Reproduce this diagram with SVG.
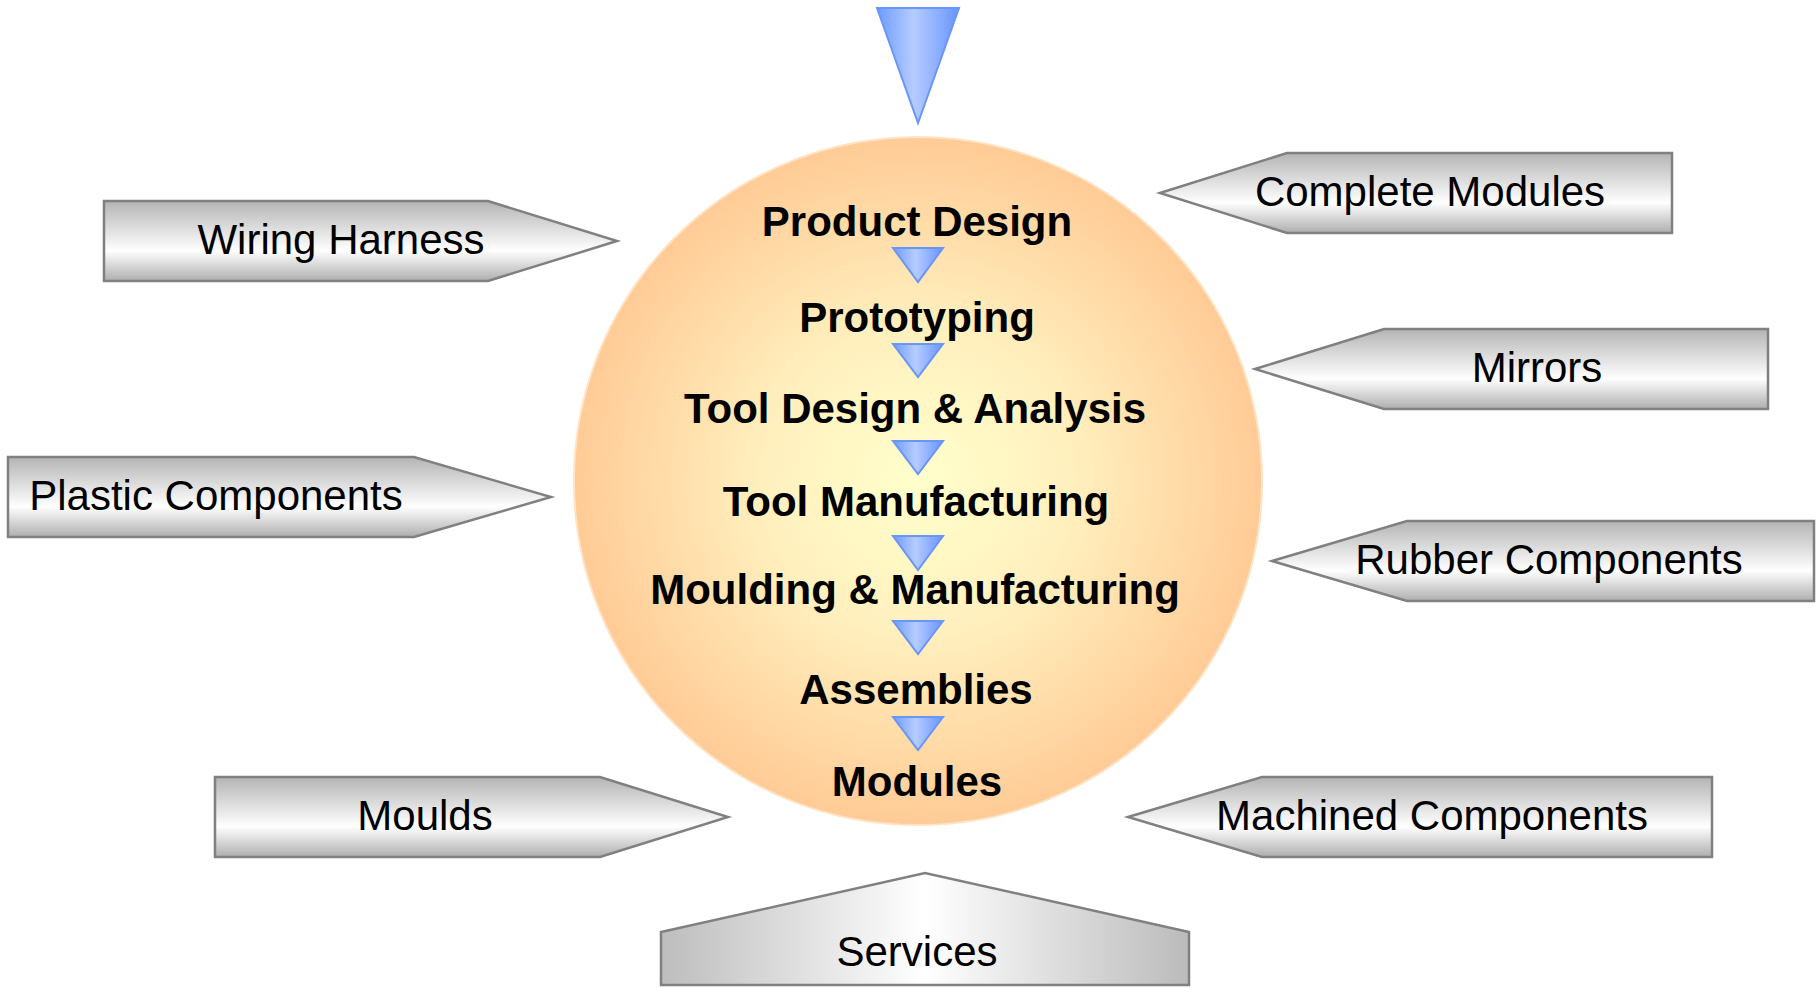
<svg xmlns="http://www.w3.org/2000/svg" width="1816" height="988" viewBox="0 0 1816 988">
<style>
.box{stroke:#808080;stroke-width:2.5;fill:url(#gv)}
.lbl{font-family:"Liberation Sans",Arial,sans-serif;font-size:42px;fill:#000;text-anchor:middle}
.stage{font-family:"Liberation Sans",Arial,sans-serif;font-size:42px;font-weight:bold;fill:#000;text-anchor:middle}
.tri{fill:url(#gb);stroke:#6A96FA;stroke-width:2}
</style>
<defs>
<linearGradient id="gv" x1="0" y1="0" x2="0" y2="1">
<stop offset="0" stop-color="#B4B4B4"/>
<stop offset="0.62" stop-color="#FFFFFF"/>
<stop offset="1" stop-color="#AEAEAE"/>
</linearGradient>
<linearGradient id="gh" x1="0" y1="0" x2="1" y2="0">
<stop offset="0" stop-color="#BDBDBD"/>
<stop offset="0.5" stop-color="#FFFFFF"/>
<stop offset="1" stop-color="#BBBBBB"/>
</linearGradient>
<linearGradient id="gb" x1="0" y1="0" x2="1" y2="0">
<stop offset="0" stop-color="#6E9BFF"/>
<stop offset="0.45" stop-color="#B6CCFF"/>
<stop offset="1" stop-color="#6794FF"/>
</linearGradient>
<radialGradient id="gc" cx="0.5" cy="0.5" r="0.5">
<stop offset="0" stop-color="#FFFFCC"/>
<stop offset="0.45" stop-color="#FFF0BE"/>
<stop offset="1" stop-color="#FFCB96"/>
</radialGradient>
</defs>

<g id="input-arrow">
<polygon class="tri" points="877,8 959,8 918,123"/>
</g>

<g id="process-circle">
<circle cx="918" cy="481" r="344" fill="url(#gc)" stroke="#FFE3C4" stroke-width="2"/>
</g>

<g id="stage-product-design"><text class="stage" x="917" y="236">Product Design</text></g>
<g id="stage-prototyping"><text class="stage" x="917" y="332">Prototyping</text></g>
<g id="stage-tool-design"><text class="stage" x="915" y="423">Tool Design &amp; Analysis</text></g>
<g id="stage-tool-manufacturing"><text class="stage" x="916" y="516">Tool Manufacturing</text></g>
<g id="stage-moulding"><text class="stage" x="915" y="604">Moulding &amp; Manufacturing</text></g>
<g id="stage-assemblies"><text class="stage" x="916" y="704">Assemblies</text></g>
<g id="stage-modules"><text class="stage" x="917" y="796">Modules</text></g>

<g id="connectors">
<polygon class="tri" points="893,248 943,248 918,282"/>
<polygon class="tri" points="893,344 943,344 918,377"/>
<polygon class="tri" points="893,441 943,441 918,474"/>
<polygon class="tri" points="893,536 943,536 918,570"/>
<polygon class="tri" points="893,621 943,621 918,654"/>
<polygon class="tri" points="893,717 943,717 918,750"/>
</g>

<g id="wiring-harness">
<polygon class="box" points="104,201 488,201 617,241 488,281 104,281"/>
<text class="lbl" x="341" y="254">Wiring Harness</text>
</g>
<g id="plastic-components">
<polygon class="box" points="8,457 414,457 551,497 414,537 8,537"/>
<text class="lbl" x="216" y="510">Plastic Components</text>
</g>
<g id="moulds">
<polygon class="box" points="215,777 600,777 728,817 600,857 215,857"/>
<text class="lbl" x="425" y="830">Moulds</text>
</g>
<g id="complete-modules">
<polygon class="box" points="1160,193 1287,153 1672,153 1672,233 1287,233"/>
<text class="lbl" x="1430" y="206">Complete Modules</text>
</g>
<g id="mirrors">
<polygon class="box" points="1255,369 1384,329 1768,329 1768,409 1384,409"/>
<text class="lbl" x="1537" y="382">Mirrors</text>
</g>
<g id="rubber-components">
<polygon class="box" points="1272,561 1407,521 1814,521 1814,601 1407,601"/>
<text class="lbl" x="1549" y="574">Rubber Components</text>
</g>
<g id="machined-components">
<polygon class="box" points="1128,817 1262,777 1712,777 1712,857 1262,857"/>
<text class="lbl" x="1432" y="830">Machined Components</text>
</g>
<g id="services">
<polygon class="box" style="fill:url(#gh)" points="661,985 661,932 925,873 1189,932 1189,985"/>
<text class="lbl" x="917" y="966">Services</text>
</g>
</svg>
